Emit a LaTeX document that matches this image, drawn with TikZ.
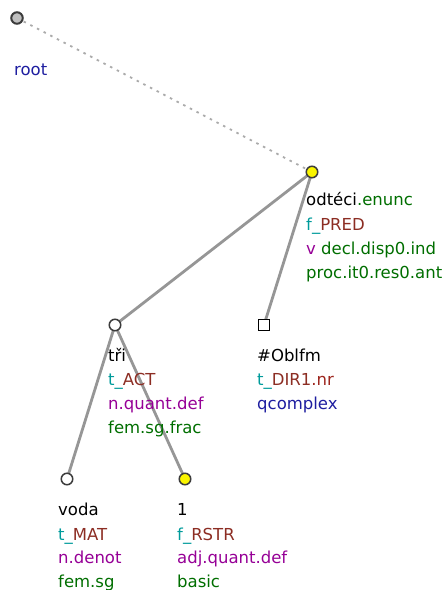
\documentclass[tikz,border=0pt]{standalone}
\usepackage{fontspec}
\setmainfont{DejaVu Sans}
\definecolor{tteal}{RGB}{0,155,155}
\definecolor{tbrown}{RGB}{140,45,35}
\definecolor{tpurple}{RGB}{150,0,150}
\definecolor{tgreen}{RGB}{0,110,0}
\definecolor{tblue}{RGB}{30,30,160}
\definecolor{edgegray}{RGB}{150,150,150}
\definecolor{nodeline}{RGB}{60,60,60}
\definecolor{nodeyellow}{RGB}{250,245,0}
\tikzset{
  lbl/.style={anchor=base west, inner sep=0pt, font=\fontsize{16.5}{20}\selectfont},
  tnode/.style={circle, draw=nodeline, line width=1.5pt, fill=white, minimum size=11.5pt, inner sep=0pt},
  ynode/.style={tnode, fill=nodeyellow},
  rnode/.style={circle, draw=nodeline, line width=2pt, fill=black!25, minimum size=11.5pt, inner sep=0pt},
  qnode/.style={rectangle, draw=black, line width=1.3pt, fill=white, minimum size=11pt, inner sep=0pt},
  edge/.style={draw=edgegray, line width=2.8pt},
  rootedge/.style={draw=edgegray!80, line width=1.8pt, dash pattern=on 2.5pt off 5pt}
}
\begin{document}
\begin{tikzpicture}[x=1pt,y=-1pt]
\useasboundingbox (0,0) rectangle (446,590);
% node positions
\coordinate (root) at (17,18);
\coordinate (odteci) at (312,172);
\coordinate (tri) at (115,325);
\coordinate (obl) at (264,325);
\coordinate (voda) at (67,479);
\coordinate (one) at (185,479);
% edges
\path[rootedge] (root) -- (odteci);
\path[edge] (odteci) -- (tri);
\path[edge] (odteci) -- (obl);
\path[edge] (tri) -- (voda);
\path[edge] (tri) -- (one);
% nodes on top
\node[rnode] (rootn) at (root) {};
\node[ynode] (odtecin) at (odteci) {};
\node[tnode] (trin) at (tri) {};
\node[qnode] (obln) at (obl) {};
\node[tnode] (vodan) at (voda) {};
\node[ynode] (onen) at (one) {};
% labels
\node[lbl, text=tblue] (rootl) at (14,75) {root};

\node[lbl] (od1) at (306,205) {odtéci\textcolor{tgreen}{.enunc}};
\node[lbl] (od2) at (306,230) {\textcolor{tteal}{f\_}\textcolor{tbrown}{PRED}};
\node[lbl] (od3) at (306,254) {\textcolor{tpurple}{v} \textcolor{tgreen}{decl.disp0.ind}};
\node[lbl, text=tgreen] (od4) at (306,278) {proc.it0.res0.ant};

\node[lbl] (tr1) at (108,361) {tři};
\node[lbl] (tr2) at (108,385) {\textcolor{tteal}{t\_}\textcolor{tbrown}{ACT}};
\node[lbl, text=tpurple] (tr3) at (108,409) {n.quant.def};
\node[lbl, text=tgreen] (tr4) at (108,433) {fem.sg.frac};

\node[lbl] (ob1) at (257,361) {\#Oblfm};
\node[lbl] (ob2) at (257,385) {\textcolor{tteal}{t\_}\textcolor{tbrown}{DIR1}\textcolor{tbrown!85!red}{.nr}};
\node[lbl, text=tblue] (ob3) at (257,409) {qcomplex};

\node[lbl] (vo1) at (58,515) {voda};
\node[lbl] (vo2) at (58,540) {\textcolor{tteal}{t\_}\textcolor{tbrown}{MAT}};
\node[lbl, text=tpurple] (vo3) at (58,563) {n.denot};
\node[lbl, text=tgreen] (vo4) at (58,587) {fem.sg};

\node[lbl] (on1) at (177,515) {1};
\node[lbl] (on2) at (177,540) {\textcolor{tteal}{f\_}\textcolor{tbrown}{RSTR}};
\node[lbl, text=tpurple] (on3) at (177,563) {adj.quant.def};
\node[lbl, text=tgreen] (on4) at (177,587) {basic};
\end{tikzpicture}
\end{document}
